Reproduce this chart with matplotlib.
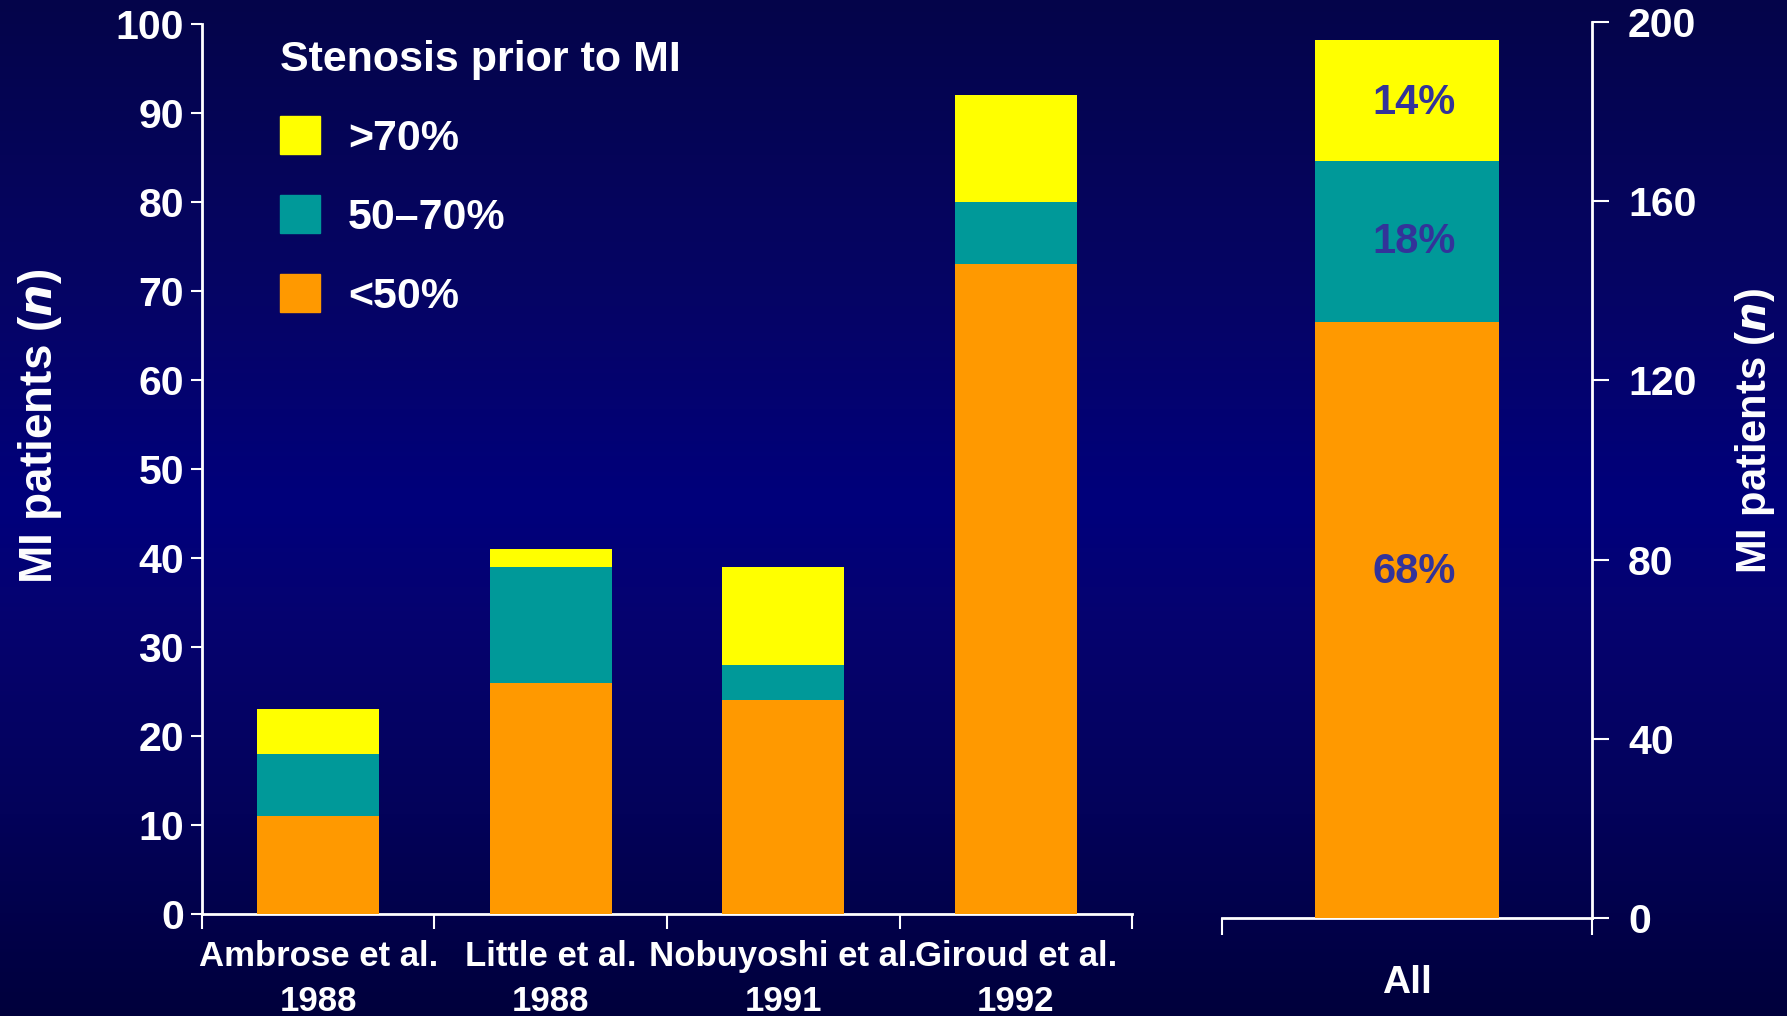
import numpy as np
import matplotlib
matplotlib.use("Agg")
import matplotlib.pyplot as plt
from matplotlib.colors import LinearSegmentedColormap
from matplotlib.patches import Patch

plt.rcParams['font.family'] = ['Liberation Sans', 'DejaVu Sans']
plt.rcParams['font.weight'] = 'bold'

# data
studies = ["Ambrose et al.\n1988", "Little et al.\n1988",
           "Nobuyoshi et al.\n1991", "Giroud et al.\n1992"]
lt50 = [11, 26, 24, 73]
s50_70 = [7, 13, 4, 7]
gt70 = [5, 2, 11, 12]

all_label = ["All"]
all_counts = [133, 36, 27]          # <50%, 50-70%, >70%
all_pct = ["68%", "18%", "14%"]

categories = [">70%", "50\u201370%", "<50%"]
c_yellow = "#FFFF00"
c_teal = "#009999"
c_orange = "#FF9900"
txt_col = "#333399"

fig = plt.figure(figsize=(17.87, 10.16), dpi=100)

# background gradient
bg = fig.add_axes([0, 0, 1, 1], zorder=-10)
cmap = LinearSegmentedColormap.from_list("bg", [
    (0.0, "#04044a"), (0.3, "#060466"), (0.5, "#00007c"),
    (0.62, "#06036e"), (0.8, "#03025a"), (1.0, "#00003c")])
grad = np.linspace(0, 1, 256).reshape(-1, 1)
bg.imshow(grad, aspect="auto", cmap=cmap, extent=[0, 1, 0, 1], origin="upper")
bg.axis("off")

# left panel
ax = fig.add_axes([0.113, 0.1004, 0.5205, 0.876])
ax.patch.set_alpha(0)
x = np.arange(len(studies))
w = 0.525
ax.bar(x, lt50, w, color=c_orange, zorder=3)
ax.bar(x, s50_70, w, bottom=lt50, color=c_teal, zorder=3)
ax.bar(x, gt70, w, bottom=np.add(lt50, s50_70), color=c_yellow, zorder=3)
ax.set_xlim(-0.5, len(studies) - 0.5)
ax.set_ylim(0, 100)
ax.set_yticks(range(0, 101, 10))
ax.set_xticks(np.arange(-0.5, len(studies), 1.0))
ax.set_xticklabels([])
ax.set_xticks(x, studies, minor=True)
ax.tick_params(axis="x", which="major", direction="out", length=11, width=1.5, color="white")
ax.tick_params(axis="x", which="minor", length=0, pad=19, labelsize=25, labelcolor="white")
ax.tick_params(axis="y", direction="out", length=8, width=1.5, color="white",
               labelsize=29.5, labelcolor="white", pad=5)
for lab in ax.get_xticklabels(minor=True):
    lab.set_linespacing(1.45)
for s in ["top", "right"]:
    ax.spines[s].set_visible(False)
for s in ["left", "bottom"]:
    ax.spines[s].set_color("white")
    ax.spines[s].set_linewidth(2)

handles = [Patch(color=c_yellow), Patch(color=c_teal), Patch(color=c_orange)]
leg = ax.legend(handles, categories, title="Stenosis prior to MI",
                loc="upper left", bbox_to_anchor=(280 / 1787, 1 - 40 / 1016),
                bbox_transform=fig.transFigure, frameon=False,
                fontsize=31, title_fontsize=31, alignment="left",
                handlelength=0.93, handleheight=0.98, handletextpad=0.65,
                labelspacing=0.84, borderpad=0, borderaxespad=0)
for t in leg.get_texts():
    t.set_color("white")
leg.get_title().set_color("white")
leg.get_title().set_fontweight("bold")

# right panel
ax2 = fig.add_axes([0.6838, 0.0965, 0.207, 0.8818])
ax2.patch.set_alpha(0)
bottoms = np.concatenate([[0], np.cumsum(all_counts)[:-1]])
cols = [c_orange, c_teal, c_yellow]
ax2.bar([0] * 3, all_counts, 0.497, bottom=bottoms, color=cols, zorder=3)
label_pos = [0.58, 0.5, 0.48]
for v, b, p, f in zip(all_counts, bottoms, all_pct, label_pos):
    ax2.text(0.02, b + v * f, p, ha="center", va="center", fontsize=30,
             color=txt_col, fontweight="bold", zorder=4)
ax2.set_xlim(-0.5, 0.5)
ax2.set_ylim(0, 200)
ax2.set_yticks(range(0, 201, 40))
ax2.yaxis.tick_right()
ax2.set_xticks([0], all_label)
ax2.set_xticks([-0.5, 0.5], minor=True)
ax2.tick_params(axis="x", which="major", length=0, pad=34, labelsize=28, labelcolor="white")
ax2.tick_params(axis="x", which="minor", direction="out", length=12, width=1.5, color="white")
ax2.tick_params(axis="y", direction="out", length=12, width=1.5, color="white",
                labelsize=29.5, labelcolor="white", pad=14)
for s in ["top", "left"]:
    ax2.spines[s].set_visible(False)
for s in ["right", "bottom"]:
    ax2.spines[s].set_color("white")
    ax2.spines[s].set_linewidth(2)

fig.text(40 / 1787, 0.58, r"MI patients ($\mathbf{\mathit{n}}$)", rotation=90,
         ha="center", va="center", fontsize=33, color="white", fontweight="bold")
fig.text(1755 / 1787, 0.576, r"MI patients ($\mathbf{\mathit{n}}$)", rotation=90,
         ha="center", va="center", fontsize=30, color="white", fontweight="bold")

fig.savefig("out.png", dpi=100)
